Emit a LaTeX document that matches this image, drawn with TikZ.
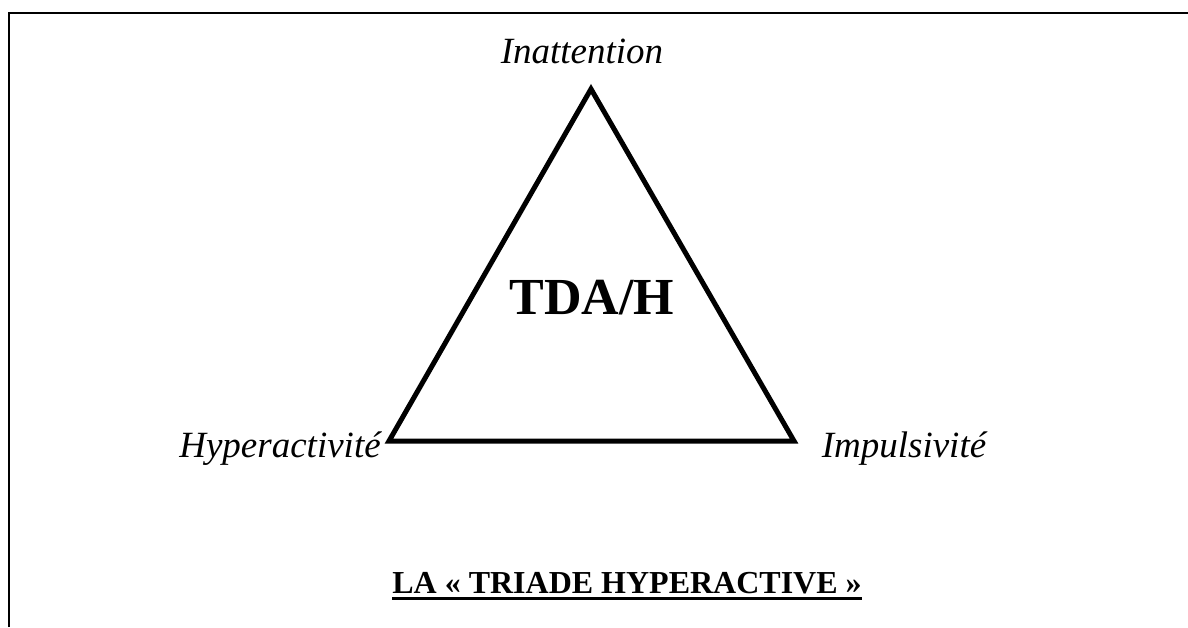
\documentclass[tikz,border=0pt]{standalone}
\usepackage{fontspec}
\setmainfont{Liberation Serif}
\usetikzlibrary{calc}

\tikzset{
  italic label/.style={inner sep=0pt, anchor=base, font=\fontsize{37}{42}\selectfont\itshape},
  bold label/.style={inner sep=0pt, anchor=base, font=\bfseries},
}

\begin{document}
\begin{tikzpicture}[x=1pt, y=1pt]
	\useasboundingbox (0,0) rectangle (1188,627);

	% Drawing the frame
	\draw[line width=2pt] (9,0) -- (9,614) -- (1188,614);

	% Drawing the triangle
	\coordinate (A) at (591,538);
	\coordinate (B) at (389,186);
	\coordinate (C) at (794,186);
	\draw[line width=5pt, line join=miter] (A) -- (B) -- (C) -- cycle;

	% Drawing the labels
	\node[italic label] (inatt) at (582,563) {Inattention};
	\node[italic label] (hyper) at (280,170) {Hyperactivité};
	\node[italic label] (impul) at (904,170) {Impulsivité};
	\node[bold label, font=\fontsize{52}{58}\selectfont\bfseries] (tdah) at (592,312) {TDA/H};

	% Drawing the title and its underline
	\node[bold label, font=\fontsize{32}{38}\selectfont\bfseries] (title) at (627,34) {LA « TRIADE HYPERACTIVE »};
	\draw[line width=3pt] ([yshift=-5pt]title.base west) -- ([yshift=-5pt]title.base east);
\end{tikzpicture}
\end{document}
